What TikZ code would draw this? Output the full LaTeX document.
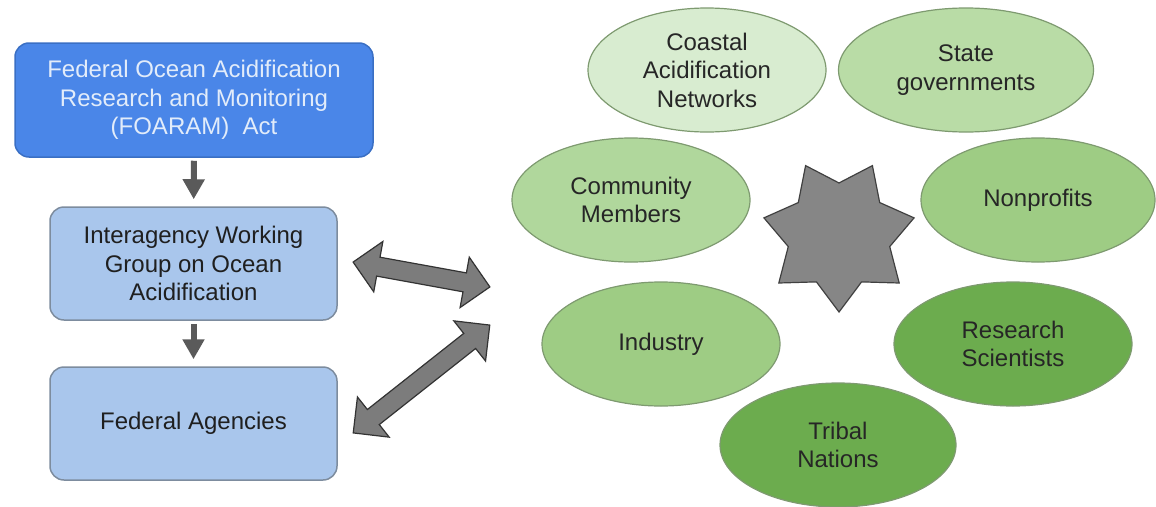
\documentclass[tikz,border=0pt]{standalone}
\usepackage{fontspec}
\setmainfont{Liberation Sans}
\usetikzlibrary{shapes.geometric,shapes.arrows,arrows.meta}

\definecolor{actblue}{HTML}{4A86E8}
\definecolor{actline}{HTML}{3A6FC4}
\definecolor{acttext}{HTML}{E2ECFA}
\definecolor{boxblue}{HTML}{A9C6EC}
\definecolor{boxline}{HTML}{7D8C9E}
\definecolor{arrowgray}{HTML}{5A5A5A}
\definecolor{blockgray}{HTML}{7C7C7C}
\definecolor{greenA}{HTML}{D8ECD0}
\definecolor{greenB}{HTML}{B9DCA6}
\definecolor{greenC}{HTML}{B0D79C}
\definecolor{greenD}{HTML}{9ECC84}
\definecolor{greenE}{HTML}{6CAC4E}
\definecolor{ringline}{HTML}{7E9A70}

\begin{document}
\begin{tikzpicture}[x=1pt,y=-1pt,
    txt/.style={font=\fontsize{24}{28.5}\selectfont,align=center},
    actbox/.style={txt,draw=actline,fill=actblue,text=acttext,line width=1.5pt,rounded corners=14pt,minimum width=358pt,minimum height=114pt,inner sep=0pt},
    bluebox/.style={txt,draw=boxline,fill=boxblue,text=black!88,line width=1.5pt,rounded corners=14pt,minimum width=287pt,minimum height=113pt,inner sep=0pt},
    down/.style={draw=arrowgray,line width=6pt,-{Triangle[width=21pt,length=20pt]},shorten <=3pt,shorten >=7pt},
    dblarrow/.style={double arrow,draw=black!80,fill=blockgray,line width=1.2pt,inner xsep=0pt,inner ysep=9pt,minimum width=50pt,double arrow head extend=16pt,double arrow head indent=0pt},
    hub/.style={star,star points=7,star point ratio=1.48,shape border rotate=180,minimum size=154pt,inner sep=0pt,draw=black!75,fill=gray!95,line width=1.2pt},
    group/.style={txt,ellipse,draw=ringline,line width=1.2pt,text=black!85,minimum width=238pt,minimum height=124pt,inner sep=0pt}]

    \clip (0,0) rectangle (1156,506);

    % left column
    \node[actbox] (act) at (194,100) {Federal Ocean Acidification\\Research and Monitoring\\(FOARAM)\ \ Act};
    \node[bluebox] (iwg) at (193.5,263.5) {Interagency Working\\Group on Ocean\\Acidification};
    \node[bluebox] (agencies) at (193.5,423.5) {Federal Agencies};

    \draw[down] (act) -- (iwg);
    \draw[down] (iwg) -- (agencies);

    % links to the partners
    \node[dblarrow,minimum height=139pt,rotate=-10.3] (linkA) at (421.5,274.5) {};
    \node[dblarrow,minimum height=174pt,rotate=38.3] (linkB) at (421.5,379) {};

    % partners
    \node[hub] (hub) at (839,235) {};

    \node[group,fill=greenA] (coastal) at (707,70) {Coastal\\Acidification\\Networks};
    \node[group,fill=greenB,minimum width=255pt] (state) at (966,70) {State\\governments};
    \node[group,fill=greenC] (community) at (631,200) {Community\\Members};
    \node[group,fill=greenD,minimum width=234pt] (nonprofits) at (1038,200) {Nonprofits};
    \node[group,fill=greenD] (industry) at (661,344) {Industry};
    \node[group,fill=greenE] (research) at (1013,344) {Research\\Scientists};
    \node[group,fill=greenE,minimum width=236pt] (tribal) at (838,445) {Tribal\\Nations};
\end{tikzpicture}
\end{document}
